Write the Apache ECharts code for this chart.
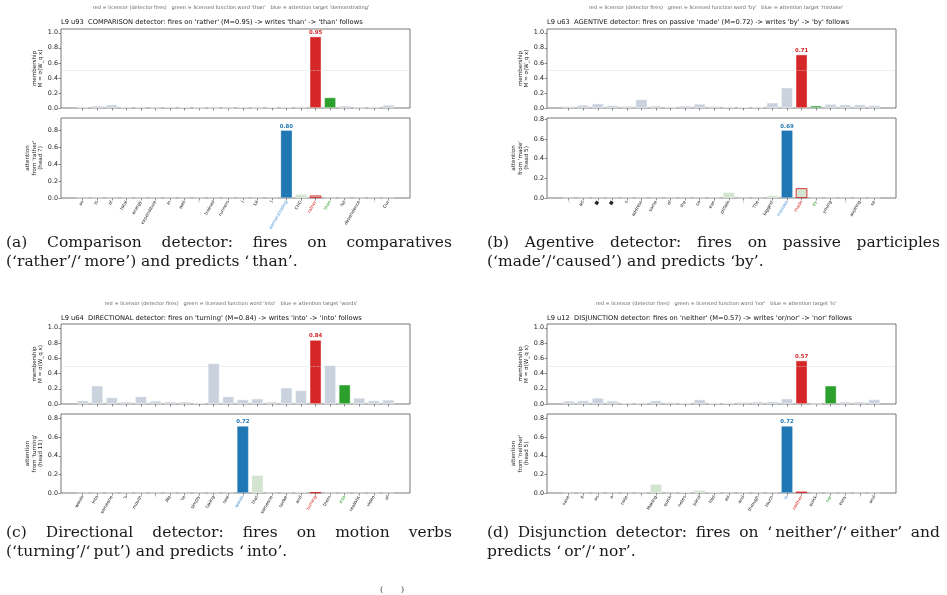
<!DOCTYPE html>
<html>
<head>
<meta charset="utf-8">
<script src="https://cdn.jsdelivr.net/npm/echarts@6/dist/echarts.min.js"></script>
<style>
html,body{margin:0;padding:0;background:#fff}
#main{width:947px;height:595px}
</style>
</head>
<body>
<div id="main"></div>
<script>
// (a) comparison detector
var tokensA = ['as','ts','of','total','energy','expenditure','in','well','-','trained','runners','(','18',')','demonstrating','CHO','rather','than','fat','dependence','.','Our'];
var memberA = [0.018,0.03,0.045,0.01,0.015,0.005,0.015,0.01,0.005,0.002,0.002,0.015,0.005,0.01,0.01,0.02,0.95,0.14,0.03,0.005,0.008,0.04];
var attnA   = [0,0,0,0,0,0,0,0,0,0,0,0,0,0.003,0.80,0.045,0.03,0,0,0,0,0];

// (b) agentive detector
var tokensB = [',','let','\u25a0','\u25a0','s','address','some','of','the','co','ean','pitfalls',',','The','biggest','mistake','made','by','young',',','aspiring','se'];
var memberB = [0.025,0.04,0.058,0.035,0.027,0.115,0.03,0.018,0.03,0.055,0.025,0.018,0.013,0.015,0.07,0.27,0.71,0.03,0.052,0.045,0.045,0.035];
var attnB   = [0,0,0,0,0,0,0,0,0,0,0.003,0.058,0,0,0.025,0.69,0.10,0,0,0,0,0];

// (c) directional detector
var tokensC = ['words','into','someone',"'s",'mouth','.','We',"'re",'simply','taking','real','words','that','someone','spoke','and','turning','them','into','realistic','video','of'];
var memberC = [0.045,0.24,0.085,0.03,0.098,0.04,0.03,0.03,0.015,0.533,0.098,0.058,0.07,0.03,0.213,0.178,0.84,0.507,0.253,0.08,0.045,0.055];
var attnC   = [0.002,0,0,0,0,0,0,0,0,0.003,0.003,0.72,0.19,0,0.003,0.015,0.008,0,0,0,0,0];

// (d) disjunction detector
var tokensD = ['save','it','as','a','note','.','Making','quick','notes','blind','fold','ed','and','through','touch','is','neither','quick','nor','easy','.','and'];
var memberD = [0.04,0.045,0.08,0.04,0.018,0.018,0.045,0.022,0.013,0.058,0.013,0.013,0.027,0.03,0.033,0.07,0.57,0.002,0.24,0.03,0.03,0.06];
var attnD   = [0,0,0,0,0,0.003,0.095,0.003,0.015,0.03,0.015,0.002,0.004,0.003,0.003,0.72,0.015,0,0,0,0,0];

var memberTicks = [0, 0.2, 0.4, 0.6, 0.8, 1.0];
var attnTicks = [0, 0.2, 0.4, 0.6, 0.8];
var threshold = 0.5;

var panels = [
  {tokens: tokensA, member: memberA, attn: attnA, lic: 16, fw: 17, tgt: 14,
   title: "L9 u93  COMPARISON detector: fires on 'rather' (M=0.95) -> writes 'than' -> 'than' follows",
   legend: "red = licensor (detector fires)   green = licensed function word 'than'   blue = attention target 'demonstrating'",
   attnName: "attention\nfrom 'rather'\n(head 7)"},
  {tokens: tokensB, member: memberB, attn: attnB, lic: 16, fw: 17, tgt: 15,
   title: "L9 u63  AGENTIVE detector: fires on passive 'made' (M=0.72) -> writes 'by' -> 'by' follows",
   legend: "red = licensor (detector fires)   green = licensed function word 'by'   blue = attention target 'mistake'",
   attnName: "attention\nfrom 'made'\n(head 5)"},
  {tokens: tokensC, member: memberC, attn: attnC, lic: 16, fw: 18, tgt: 11,
   title: "L9 u64  DIRECTIONAL detector: fires on 'turning' (M=0.84) -> writes 'into' -> 'into' follows",
   legend: "red = licensor (detector fires)   green = licensed function word 'into'   blue = attention target 'words'",
   attnName: "attention\nfrom 'turning'\n(head 11)"},
  {tokens: tokensD, member: memberD, attn: attnD, lic: 16, fw: 18, tgt: 15,
   title: "L9 u12  DISJUNCTION detector: fires on 'neither' (M=0.57) -> writes 'or/nor' -> 'nor' follows",
   legend: "red = licensor (detector fires)   green = licensed function word 'nor'   blue = attention target 'is'",
   attnName: "attention\nfrom 'neither'\n(head 5)"}
];

var layout = [
  {left: 61,  width: 349, top1: 29,  h1: 79, top2: 118, h2: 80, titleY: 22,  legendY: 8,   legendX: 231},
  {left: 547, width: 349, top1: 29,  h1: 79, top2: 118, h2: 80, titleY: 22,  legendY: 8,   legendX: 716},
  {left: 61,  width: 349, top1: 324, h1: 80, top2: 414, h2: 79, titleY: 318, legendY: 304, legendX: 231},
  {left: 547, width: 349, top1: 324, h1: 80, top2: 414, h2: 79, titleY: 318, legendY: 304, legendX: 716}
];

var RED = '#d62728', GREEN = '#2ca02c', BLUE = '#1f77b4', GRAY = '#c9d2dd', PALE = '#d3e4d0';
var SANS = 'DejaVu Sans';

var grids = [], xAxes = [], yAxes = [], series = [], graphics = [];

panels.forEach(function (p, k) {
  var L = layout[k];
  var n = p.tokens.length;
  var pad = 0.05 * (n - 1 + 0.8);
  var xmin = -0.4 - pad, xmax = n - 1 + 0.4 + pad;
  var idxs = p.tokens.map(function (_, i) { return i; });
  var bw = L.width / (xmax - xmin) * 0.8;

  [0, 1].forEach(function (j) {
    var gi = grids.length;
    grids.push({
      left: L.left, top: j ? L.top2 : L.top1, width: L.width, height: j ? L.h2 : L.h1,
      show: true, borderColor: '#555', borderWidth: 0.8, containLabel: false, outerBoundsMode: 'none'
    });
    xAxes.push({
      gridIndex: gi, type: 'value', min: xmin, max: xmax,
      axisLine: {show: false, onZero: false}, splitLine: {show: false},
      axisTick: {show: true, customValues: idxs, length: 2.5, lineStyle: {color: '#444', width: 0.6}},
      axisLabel: {
        show: j === 1, customValues: idxs, rotate: 60, margin: 3,
        fontSize: 4.4, fontFamily: SANS, color: '#222',
        formatter: function (v) {
          var i = Math.round(v), t = p.tokens[i];
          if (i === p.tgt) return '{b|' + t + '}';
          if (i === p.lic) return '{r|' + t + '}';
          if (i === p.fw) return '{g|' + t + '}';
          return t;
        },
        rich: {
          b: {color: '#4f97d6', fontSize: 4.4, fontFamily: SANS},
          r: {color: RED, fontSize: 4.4, fontFamily: SANS},
          g: {color: GREEN, fontSize: 4.4, fontFamily: SANS}
        }
      }
    });
    var vals = j ? p.attn : p.member;
    var ymax = j ? Math.max.apply(null, p.attn) * 1.18 : 1.05;
    var ticks = j ? attnTicks : memberTicks;
    yAxes.push({
      gridIndex: gi, type: 'value', min: 0, max: ymax,
      axisLine: {show: false, onZero: false}, splitLine: {show: false},
      axisTick: {show: true, customValues: ticks, length: 2.5, lineStyle: {color: '#444', width: 0.6}},
      axisLabel: {customValues: ticks, margin: 3, fontSize: 6.4, fontFamily: SANS, color: '#222',
        formatter: function (v) { return v.toFixed(1); }},
      name: j ? p.attnName : 'membership\nM = \u03c3(W_q x)',
      nameLocation: 'middle', nameRotate: 90, nameGap: 17,
      nameTextStyle: {fontSize: 5.6, fontFamily: SANS, color: '#222', lineHeight: 6.5}
    });
    var data = vals.map(function (v, i) {
      var item = {value: [i, v]};
      if (j === 0) {
        item.itemStyle = {color: i === p.lic ? RED : (i === p.fw ? GREEN : GRAY),
          borderColor: 'rgba(255,255,255,0.75)', borderWidth: 0.6};
        if (i === p.lic) item.label = {show: true, position: 'top', distance: 1.5,
          formatter: v.toFixed(2), color: RED, fontWeight: 'bold', fontSize: 5.4, fontFamily: SANS};
      } else {
        item.itemStyle = {color: i === p.tgt ? BLUE : PALE,
          borderColor: i === p.lic ? RED : 'rgba(255,255,255,0.6)', borderWidth: i === p.lic ? 0.9 : 0.5};
        if (i === p.tgt) item.label = {show: true, position: 'top', distance: 1.5,
          formatter: v.toFixed(2), color: BLUE, fontWeight: 'bold', fontSize: 5.4, fontFamily: SANS};
      }
      return item;
    });
    var s = {type: 'bar', xAxisIndex: gi, yAxisIndex: gi, barWidth: bw, data: data, silent: true};
    if (j === 0) s.markLine = {silent: true, symbol: 'none', label: {show: false},
      lineStyle: {color: '#d0d0d0', type: 'dotted', width: 0.7}, data: [{yAxis: threshold}]};
    series.push(s);
  });

  graphics.push({type: 'text', x: L.left, y: L.titleY,
    style: {text: p.title, fontSize: 6.7, fontFamily: SANS, fill: '#111', align: 'left', verticalAlign: 'middle'}});
  graphics.push({type: 'text', x: L.legendX, y: L.legendY,
    style: {text: p.legend, fontSize: 5.0, fontFamily: SANS, fill: '#666', align: 'center', verticalAlign: 'middle'}});
});

// captions (justified first line, like the LaTeX subcaptions)
var CAP_FONT = 15.5, CAP_FAM = 'DejaVu Serif';
var ctx = document.createElement('canvas').getContext('2d');
ctx.font = CAP_FONT + 'px "' + CAP_FAM + '"';
function capText(t, x, y) {
  graphics.push({type: 'text', x: x, y: y,
    style: {text: t, fontSize: CAP_FONT, fontFamily: CAP_FAM, fill: '#1a1a1a', align: 'left', verticalAlign: 'middle'}});
}
function justify(words, x0, x1, y) {
  var widths = words.map(function (w) { return ctx.measureText(w).width; });
  var total = widths.reduce(function (a, b) { return a + b; }, 0);
  var gap = (x1 - x0 - total) / (words.length - 1);
  var x = x0;
  words.forEach(function (w, i) { capText(w, x, y); x += widths[i] + gap; });
}
var q1 = '\u2018', q2 = '\u2019', th = '\u2009';
justify(['(a)', 'Comparison', 'detector:', 'fires', 'on', 'comparatives'], 6, 452, 243);
capText('(' + q1 + 'rather' + q2 + '/' + q1 + th + 'more' + q2 + ') and predicts ' + q1 + th + 'than' + q2 + '.', 6, 262);
justify(['(b)', 'Agentive', 'detector:', 'fires', 'on', 'passive', 'participles'], 487, 940, 243);
capText('(' + q1 + 'made' + q2 + '/' + q1 + 'caused' + q2 + ') and predicts ' + q1 + 'by' + q2 + '.', 487, 262);
justify(['(c)', 'Directional', 'detector:', 'fires', 'on', 'motion', 'verbs'], 6, 452, 533);
capText('(' + q1 + 'turning' + q2 + '/' + q1 + th + 'put' + q2 + ') and predicts ' + q1 + th + 'into' + q2 + '.', 6, 552);
justify(['(d)', 'Disjunction', 'detector:', 'fires', 'on', q1 + th + 'neither' + q2 + '/' + q1 + th + 'either' + q2, 'and'], 487, 940, 533);
capText('predicts ' + q1 + th + 'or' + q2 + '/' + q1 + th + 'nor' + q2 + '.', 487, 552);
graphics.push({type: 'text', x: 392, y: 590,
  style: {text: '(       )', fontSize: 8, fontFamily: CAP_FAM, fill: '#333', align: 'center', verticalAlign: 'middle'}});

var myChart = echarts.init(document.getElementById('main'), null, {renderer: 'canvas'});
var option = {
  animation: false,
  backgroundColor: '#fff',
  grid: grids,
  xAxis: xAxes,
  yAxis: yAxes,
  series: series,
  graphic: graphics
};
myChart.setOption(option);
</script>
</body>
</html>
